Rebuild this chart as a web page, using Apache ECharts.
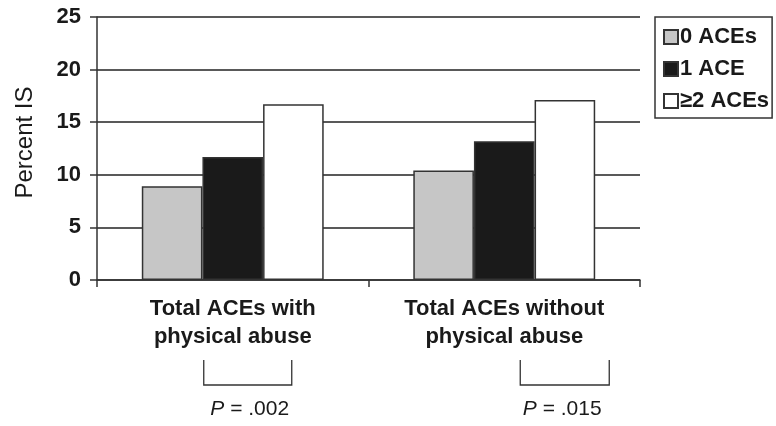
<!DOCTYPE html>
<html>
<head>
<meta charset="utf-8">
<script src="https://cdn.jsdelivr.net/npm/echarts@6/dist/echarts.min.js"></script>
<style>
  html, body { margin: 0; padding: 0; background: #fff; }
  #chart { width: 776px; height: 426px; }
</style>
</head>
<body>
<div id="chart"></div>
<script>
// Percent IS by number of adverse childhood experiences
const categories = ['Total ACEs with\nphysical abuse', 'Total ACEs without\nphysical abuse'];
const seriesNames = ['0 ACEs', '1 ACE', '≥2 ACEs'];
const zeroAces = [8.9, 10.4];
const oneAce = [11.7, 13.2];
const twoPlusAces = [16.7, 17.1];
const pValues = ['.002', '.015'];

const FONT = '"Liberation Sans", Arial, Helvetica, sans-serif';
const INK = '#1a1a1a';

const chart = echarts.init(document.getElementById('chart'), null, { renderer: 'canvas' });

function barSeries(name, data, color) {
  return {
    name: name,
    type: 'bar',
    data: data,
    barGap: '0%',
    barCategoryGap: '33%',
    itemStyle: { color: color, borderColor: '#333', borderWidth: 1.5 },
    emphasis: { disabled: true },
    animation: false
  };
}

chart.setOption({
  animation: false,
  textStyle: { fontFamily: FONT },
  grid: { left: 97, right: 136, top: 17, bottom: 146 },
  legend: {
    orient: 'vertical',
    left: 655,
    top: 17,
    padding: [9, 3, 6, 8],
    itemGap: 10,
    itemWidth: 14,
    itemHeight: 14,
    icon: 'rect',
    borderColor: '#333',
    borderWidth: 1.5,
    selectedMode: false,
    textStyle: { fontFamily: FONT, fontWeight: 'bold', fontSize: 22, color: INK, padding: [0, 0, 0, -3] },
    data: seriesNames
  },
  xAxis: {
    type: 'category',
    data: categories,
    axisLine: { lineStyle: { color: '#333', width: 1.5 } },
    axisTick: { show: true, length: 7, lineStyle: { color: '#333', width: 1.5 } },
    axisLabel: {
      fontFamily: FONT, fontWeight: 'bold', fontSize: 22, color: INK,
      lineHeight: 28, margin: 15, interval: 0
    }
  },
  yAxis: {
    type: 'value',
    min: 0, max: 25, interval: 5,
    name: 'Percent IS',
    nameLocation: 'middle',
    nameGap: 60,
    nameTextStyle: { fontFamily: FONT, fontSize: 24, color: INK, padding: [0, 0, 0, 12] },
    axisLine: { show: true, lineStyle: { color: '#333', width: 1.5 } },
    axisTick: { show: true, inside: false, length: 7, lineStyle: { color: '#333', width: 1.5 } },
    axisLabel: { fontFamily: FONT, fontWeight: 'bold', fontSize: 22, color: INK, margin: 16 },
    splitLine: { show: true, lineStyle: { color: '#222', width: 1.5 } }
  },
  series: [
    barSeries(seriesNames[0], zeroAces, '#c6c6c6'),
    barSeries(seriesNames[1], oneAce, '#1a1a1a'),
    barSeries(seriesNames[2], twoPlusAces, '#ffffff')
  ]
});

// Significance brackets beneath each category, placed relative to the category centre
const bracketStyle = [
  { from: -29, to: 59, text: 17 },
  { from: 16, to: 105, text: 58 }
];
const y0 = chart.convertToPixel({ yAxisIndex: 0 }, 0);
const elements = [];
categories.forEach(function (cat, i) {
  const cx = chart.convertToPixel({ xAxisIndex: 0 }, cat);
  const b = bracketStyle[i];
  const top = y0 + 80, bottom = y0 + 105;
  elements.push({
    type: 'polyline',
    shape: { points: [[cx + b.from, top], [cx + b.from, bottom], [cx + b.to, bottom], [cx + b.to, top]] },
    style: { stroke: '#333', lineWidth: 1.3, fill: null }
  });
  elements.push({
    type: 'text',
    x: cx + b.text,
    y: y0 + 129,
    style: {
      text: '{i|P} = ' + pValues[i],
      rich: { i: { fontStyle: 'italic', fontFamily: FONT, fontSize: 21, fill: INK } },
      font: '21px ' + FONT,
      fill: INK,
      align: 'center',
      verticalAlign: 'middle'
    }
  });
});
chart.setOption({ graphic: { elements: elements } });
</script>
</body>
</html>
